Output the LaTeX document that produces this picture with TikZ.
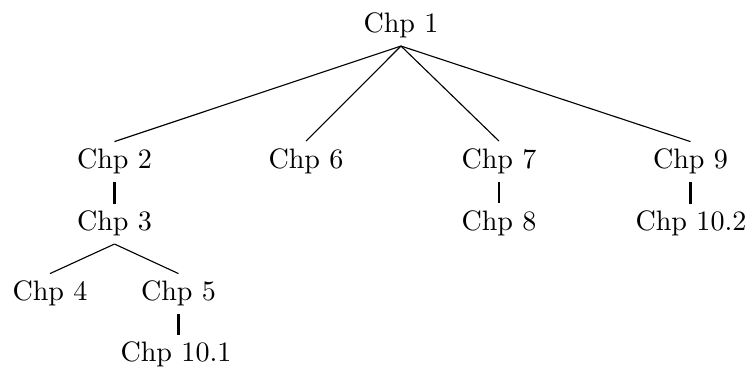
\documentclass[tikz,border=0pt]{standalone}
\begin{document}
\begin{tikzpicture}[x=0.3558pt,y=-0.3558pt,
  chp/.style={anchor=base,inner xsep=2pt,inner ysep=2.5pt},
  diag/.style={line width=0.4pt},
  vert/.style={line width=0.8pt}]
\useasboundingbox (0,0) rectangle (748,367);
\node[chp] (c1) at (401,33) {Chp 1};
\node[chp] (c2) at (114.5,169) {Chp 2};
\node[chp] (c6) at (306,168.5) {Chp 6};
\node[chp] (c7) at (499,168.5) {Chp 7};
\node[chp] (c9) at (690.5,169) {Chp 9};
\node[chp] (c3) at (114.5,231) {Chp 3};
\node[chp] (c8) at (499,230.5) {Chp 8};
\node[chp] (c102) at (691,231) {Chp 10.2};
\node[chp] (c4) at (50,301) {Chp 4};
\node[chp] (c5) at (178.5,301) {Chp 5};
\node[chp] (c101) at (176,362) {Chp 10.1};
\draw[diag] (c1.south) -- (c2.north);
\draw[diag] (c1.south) -- (c6.north);
\draw[diag] (c1.south) -- (c7.north);
\draw[diag] (c1.south) -- (c9.north);
\draw[diag] (c3.south) -- (c4.north);
\draw[diag] (c3.south) -- (c5.north);
\draw[vert] (c2.south) -- (c2.south |- c3.north);
\draw[vert] (c7.south) -- (c7.south |- c8.north);
\draw[vert] (c9.south) -- (c9.south |- c102.north);
\draw[vert] (c5.south) -- (c5.south |- c101.north);
\end{tikzpicture}
\end{document}
